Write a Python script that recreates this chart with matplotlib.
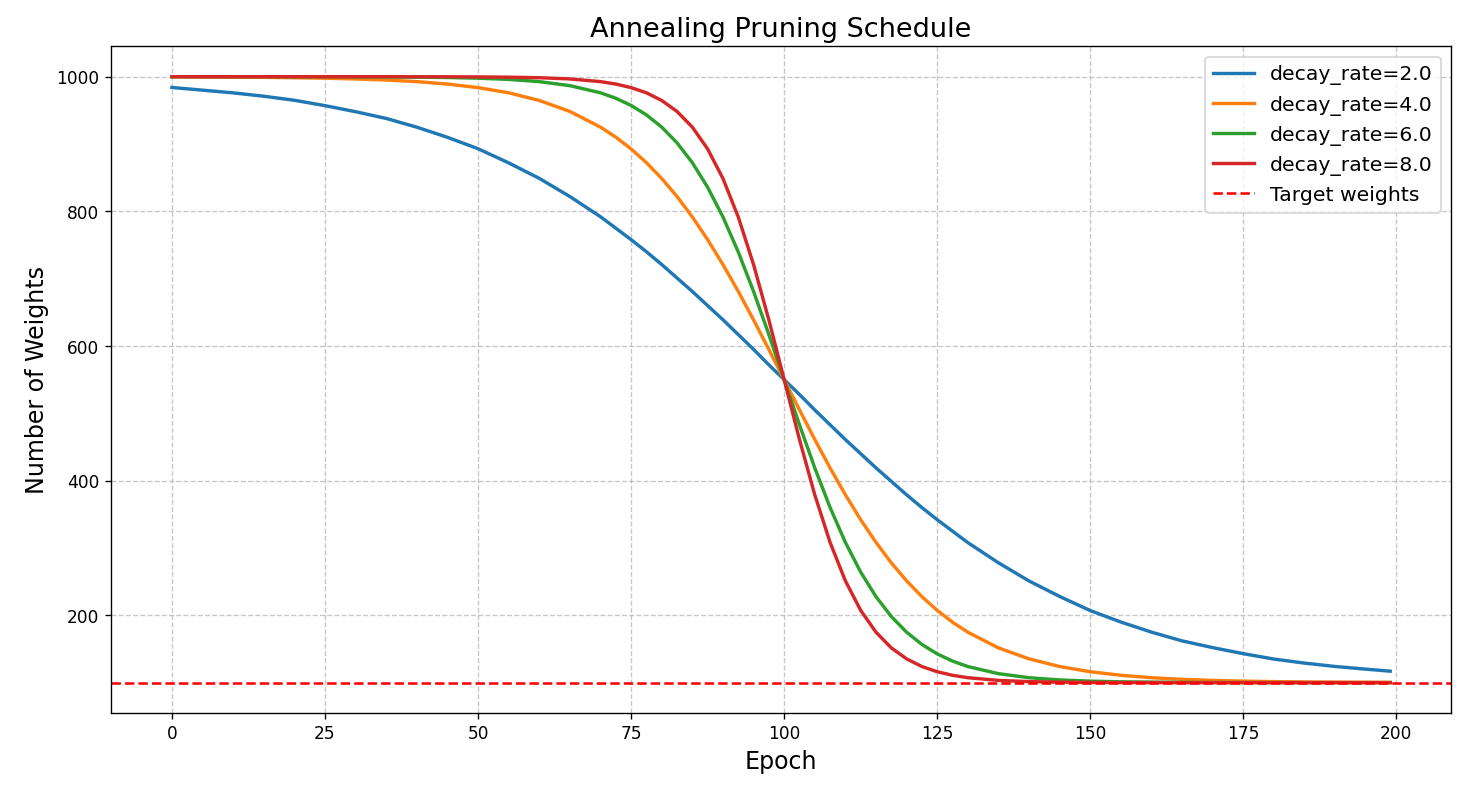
import matplotlib.pyplot as plt

epochs = [0, 5, 10, 15, 20, 25, 30, 35, 40, 45, 50, 55, 60, 65, 70, 72.5, 75, 77.5, 80,
          82.5, 85, 87.5, 90, 92.5, 95, 97.5, 100, 102.5, 105, 107.5, 110, 112.5, 115,
          117.5, 120, 122.5, 125, 127.5, 130, 135, 140, 145, 150, 155, 160, 165, 170, 175,
          180, 185, 190, 195, 199]

# weights for each decay rate
w_decay2 = [984, 980, 976, 971, 965, 957, 948, 938, 925, 910, 893, 872, 849, 822, 792, 775,
            758, 740, 721, 701, 681, 660, 639, 617, 595, 572, 550, 528, 505, 483, 461, 440,
            419, 399, 379, 360, 342, 325, 308, 278, 251, 228, 207, 190, 175, 162, 152, 143,
            135, 129, 124, 120, 117]
w_decay4 = [1000, 999.5, 999.3, 999, 998.5, 997.8, 996.7, 995.1, 992.7, 989.1, 983.8, 976.1,
            964.7, 948.4, 925.1, 910.2, 892.7, 872.3, 848.8, 822.0, 791.7, 758.0, 721.0, 681.1,
            638.8, 594.8, 550, 505.2, 461.2, 418.9, 379.0, 342.0, 308.3, 278.0, 251.2, 227.7,
            207.3, 189.8, 174.9, 151.6, 135.3, 123.9, 116.2, 110.9, 107.3, 104.9, 103.3, 102.2,
            101.5, 101.0, 100.7, 100.5, 100.3]
w_decay6 = [1000, 1000, 1000, 1000, 999.9, 999.9, 999.8, 999.6, 999.3, 998.8, 997.8, 996.0,
            992.7, 986.7, 976.1, 968.0, 957.3, 943.3, 925.1, 901.8, 872.3, 835.8, 791.7, 739.8,
            681.1, 617.0, 550, 483.0, 418.9, 360.2, 308.3, 264.2, 227.7, 198.2, 174.9, 156.7,
            142.7, 132.0, 123.9, 113.3, 107.3, 104.0, 102.2, 101.2, 100.7, 100.4, 100.2, 100.1,
            100.1, 100, 100, 100, 100]
w_decay8 = [1000, 1000, 1000, 1000, 1000, 1000, 1000, 1000, 999.9, 999.9, 999.7, 999.3,
            998.5, 996.7, 992.7, 989.1, 983.8, 976.1, 964.7, 948.4, 925.1, 892.7, 848.8, 791.7,
            721.0, 638.8, 550, 461.2, 379.0, 308.3, 251.2, 207.3, 174.9, 151.6, 135.3, 123.9,
            116.2, 110.9, 107.3, 103.3, 101.5, 100.7, 100.3, 100.1, 100.1, 100, 100, 100,
            100, 100, 100, 100, 100]

decay_rates = [2.0, 4.0, 6.0, 8.0]
target = 100

fig = plt.figure(figsize=(12, 6.5), dpi=122.1)
ax = fig.add_subplot(111)
for rate, w in zip(decay_rates, [w_decay2, w_decay4, w_decay6, w_decay8]):
    ax.plot(epochs, w, linewidth=2, label=f"decay_rate={rate}")
ax.axhline(target, color="red", linestyle="--", linewidth=1.5, label="Target weights")

ax.set_title("Annealing Pruning Schedule", fontsize=16)
ax.set_xlabel("Epoch", fontsize=14)
ax.set_ylabel("Number of Weights", fontsize=14)
ax.set_xticks([0, 25, 50, 75, 100, 125, 150, 175, 200])
ax.tick_params(labelsize=10)
ax.grid(True, linestyle="--", alpha=0.7)
ax.legend(loc="upper right", fontsize=12)

plt.subplots_adjust(left=0.0758, right=0.9904, top=0.9407, bottom=0.1009)
plt.savefig("out.png", dpi=122.1)
